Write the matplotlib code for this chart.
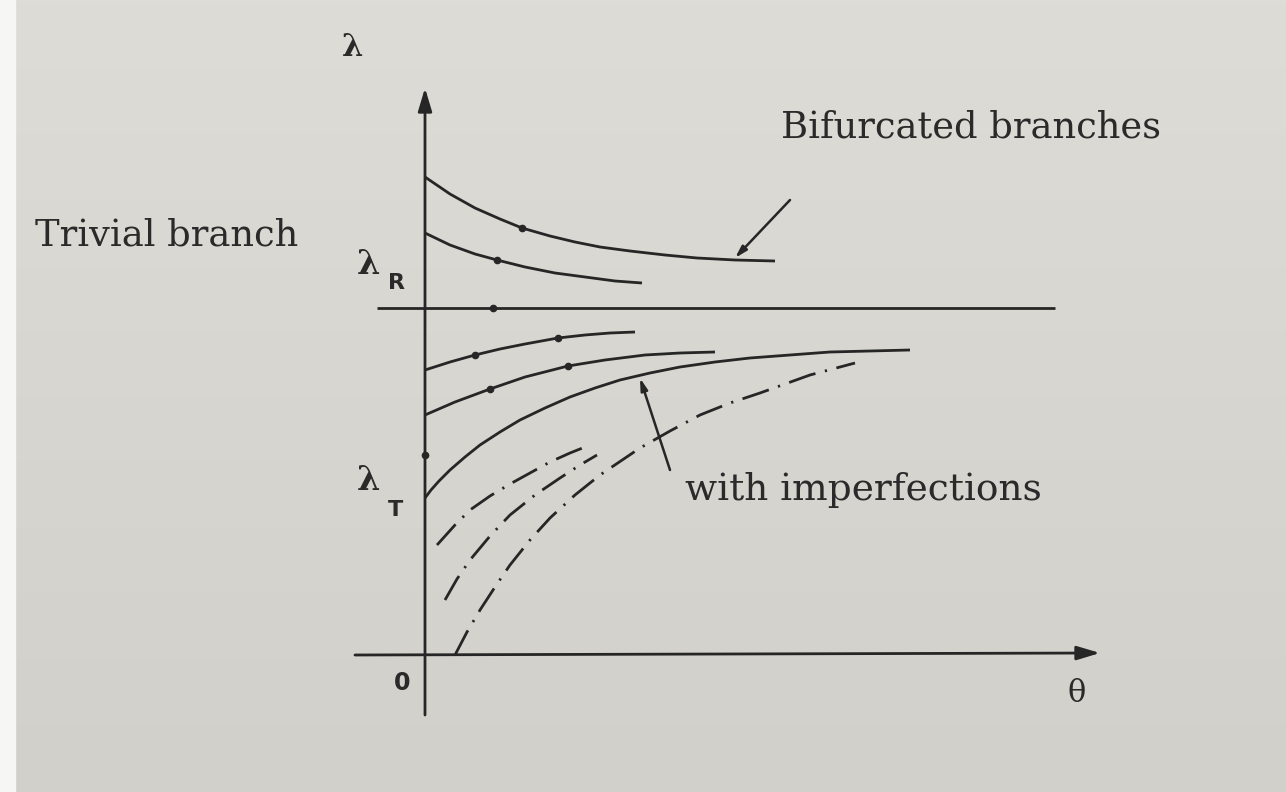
import matplotlib.pyplot as plt
import numpy as np
from matplotlib.colors import LinearSegmentedColormap

# branch curves, theta (horizontal) vs lambda (vertical), arbitrary units
bif_top_t = [0, 0.25, 0.5, 0.75, 0.97, 1.25, 1.5, 1.75, 2.05, 2.4, 2.72, 3.1, 3.5]
bif_top_l = [4.78, 4.61, 4.47, 4.36, 4.27, 4.19, 4.13, 4.08, 4.04, 4.00, 3.97, 3.95, 3.94]
bif_low_t = [0, 0.25, 0.5, 0.72, 1.0, 1.3, 1.6, 1.9, 2.17]
bif_low_l = [4.22, 4.10, 4.01, 3.95, 3.88, 3.82, 3.78, 3.74, 3.72]

trivial_t = [-0.48, 6.3]
trivial_l = [3.47, 3.47]

pre_a_t = [0, 0.25, 0.5, 0.75, 1.0, 1.33, 1.6, 1.85, 2.1]
pre_a_l = [2.85, 2.93, 3.00, 3.06, 3.11, 3.17, 3.20, 3.22, 3.23]
pre_b_t = [0, 0.3, 0.65, 1.0, 1.43, 1.8, 2.2, 2.55, 2.9]
pre_b_l = [2.40, 2.53, 2.66, 2.78, 2.89, 2.95, 3.00, 3.02, 3.03]
pre_c_t = [0, 0.06, 0.14, 0.25, 0.4, 0.55, 0.75, 0.95, 1.2, 1.45, 1.7, 1.95, 2.25, 2.55, 2.9, 3.25, 3.65, 4.05, 4.45, 4.85]
pre_c_l = [1.57, 1.65, 1.74, 1.85, 1.98, 2.10, 2.23, 2.35, 2.47, 2.58, 2.67, 2.75, 2.82, 2.88, 2.93, 2.97, 3.00, 3.03, 3.04, 3.05]

# imperfect paths
imp_a_t = [0.12, 0.3, 0.45, 0.65, 0.85, 1.05, 1.25, 1.45, 1.65]
imp_a_l = [1.10, 1.30, 1.45, 1.59, 1.71, 1.82, 1.93, 2.02, 2.10]
imp_b_t = [0.2, 0.32, 0.45, 0.65, 0.85, 1.1, 1.35, 1.55, 1.72]
imp_b_l = [0.55, 0.76, 0.95, 1.19, 1.40, 1.60, 1.77, 1.90, 2.00]
imp_c_t = [0.3, 0.42, 0.55, 0.7, 0.85, 1.05, 1.25, 1.5, 1.75, 2.15, 2.45, 2.75, 3.05, 3.35, 3.6, 3.85, 4.3]
imp_c_l = [0.0, 0.23, 0.45, 0.68, 0.90, 1.15, 1.37, 1.60, 1.80, 2.07, 2.24, 2.40, 2.52, 2.62, 2.71, 2.80, 2.92]

# small direction marks along the branches
mark_t = [0.97, 0.72, 0.68, 0.5, 1.33, 0.65, 1.43, 0.0]
mark_l = [4.27, 3.95, 3.47, 3.00, 3.17, 2.66, 2.89, 2.00]

ink = '#262626'
paper = '#d7d6d0'

fig = plt.figure(figsize=(12.86, 7.92), dpi=100, facecolor=paper)
ax = fig.add_axes([0, 0, 1, 1])
ax.set_xlim(-4.25, 8.61)
ax.set_ylim(-1.37, 6.55)
ax.axis('off')

# page shading: a touch lighter towards the top, white margin strip on the left
page = LinearSegmentedColormap.from_list('page', ['#d1d0ca', '#dddcd6'])
shade = np.linspace(0.0, 1.0, 256)[:, None] * np.ones((1, 4))
ax.imshow(shade, extent=(-4.25, 8.61, -1.37, 6.55), cmap=page, aspect='auto',
          zorder=0, origin='lower', interpolation='bilinear')
ax.axvspan(-4.25, -4.1, color='#f6f6f4', zorder=1)

lw = 2.0
# axes of the diagram
ax.annotate('', xy=(0, 5.67), xytext=(0, -0.6),
            arrowprops=dict(arrowstyle='-|>,head_length=1.4,head_width=0.42', color=ink, lw=lw,
                            shrinkA=0, shrinkB=0), zorder=3)
ax.annotate('', xy=(6.75, 0.02), xytext=(-0.7, 0.0),
            arrowprops=dict(arrowstyle='-|>,head_length=1.4,head_width=0.42', color=ink, lw=lw,
                            shrinkA=0, shrinkB=0), zorder=3)

for t, l in [(bif_top_t, bif_top_l), (bif_low_t, bif_low_l), (trivial_t, trivial_l),
             (pre_a_t, pre_a_l), (pre_b_t, pre_b_l), (pre_c_t, pre_c_l)]:
    ax.plot(t, l, color=ink, lw=lw, solid_capstyle='butt', solid_joinstyle='round', zorder=3)

dashdot = (0, (10, 3.5, 0.8, 3.5))
for t, l in [(imp_a_t, imp_a_l), (imp_b_t, imp_b_l), (imp_c_t, imp_c_l)]:
    ax.plot(t, l, color=ink, lw=lw, linestyle=dashdot, zorder=3)

ax.plot(mark_t, mark_l, 'o', color=ink, ms=4.5, zorder=4)

# pointers
ax.annotate('', xy=(3.10, 3.97), xytext=(3.65, 4.55),
            arrowprops=dict(arrowstyle='-|>,head_length=0.7,head_width=0.2', color=ink, lw=1.8,
                            shrinkA=0, shrinkB=0), zorder=4)
ax.annotate('', xy=(2.15, 2.77), xytext=(2.45, 1.85),
            arrowprops=dict(arrowstyle='-|>,head_length=0.7,head_width=0.2', color=ink, lw=1.8,
                            shrinkA=0, shrinkB=0), zorder=4)

serif = 'DejaVu Serif'
txt = '#2a2a2a'
ax.text(3.56, 5.27, 'Bifurcated branches', family=serif, fontsize=26.5, color=txt,
        va='center', ha='left')
ax.text(-3.9, 4.2, 'Trivial branch', family=serif, fontsize=26.5, color=txt,
        va='center', ha='left')
ax.text(2.6, 1.65, 'with imperfections', family=serif, fontsize=27, color=txt,
        va='center', ha='left')

ax.text(-0.72, 6.07, 'λ', family=serif, fontsize=22, color=txt, ha='center', va='center',
        fontweight='bold')
ax.text(-0.57, 3.90, 'λ', family=serif, fontsize=24, color=txt, ha='center', va='center',
        fontweight='bold')
ax.text(-0.29, 3.72, 'R', family='DejaVu Sans', fontsize=16, color=txt, ha='center', va='center',
        fontweight='bold')
ax.text(-0.57, 1.75, 'λ', family=serif, fontsize=24, color=txt, ha='center', va='center',
        fontweight='bold')
ax.text(-0.29, 1.45, 'T', family='DejaVu Sans', fontsize=16, color=txt, ha='center', va='center',
        fontweight='bold')
ax.text(-0.23, -0.28, '0', family='DejaVu Sans', fontsize=17, color=txt, ha='center', va='center',
        fontweight='bold')
ax.text(6.52, -0.38, 'θ', family='DejaVu Serif', fontsize=22, color=txt, ha='center', va='center')

fig.savefig('out.png', dpi=100, facecolor=paper)
